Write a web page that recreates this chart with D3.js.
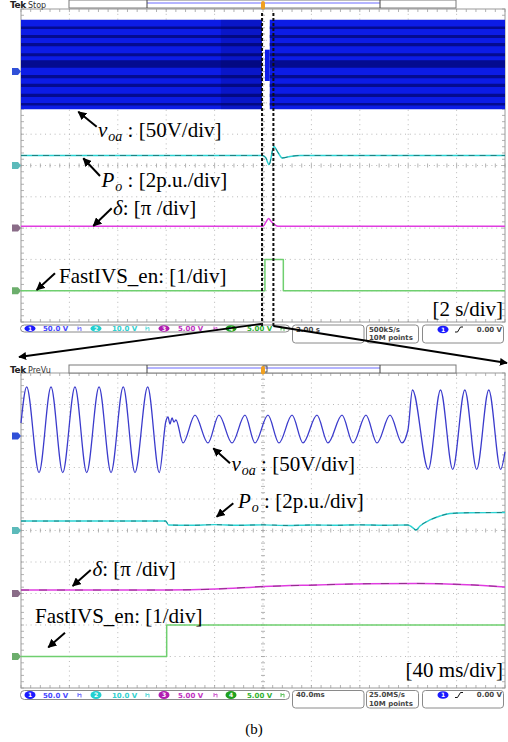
<!DOCTYPE html>
<html><head><meta charset="utf-8">
<script src="https://cdn.jsdelivr.net/npm/d3@7"></script>
<style>body{margin:0;background:#fff}svg{display:block}</style>
</head><body><svg id="c" width="508" height="742"></svg>
<script>
// ---------------- DATA ----------------
// Channel settings (scope status bar)
const chanLabels = ["1","2","3","4"];
const chanScales = ["50.0 V","10.0 V","5.00 V","5.00 V"];
const topTimebase = "2.00 s", topRate = "500kS/s", topPoints = "10M points";
const botTimebase = "40.0ms", botRate = "25.0MS/s", botPoints = "10M points";
const trigLevel = "0.00 V";

// Top screen (2 s/div, time in s)
const topVoaSegments = [   // envelope of v_oa (V)
  {t0:-10, t1:-0.04, hi:83, lo:-60},
  {t0:0.08, t1:0.28, hi:35, lo:-15},
  {t0:0.28, t1:10, hi:83, lo:-60}
];
const topVoaStripes = [ {v:70,w:4},{v:56,w:5},{v:43,w:5},{v:27,w:5},{v:12,w:12},{v:-8,w:5},{v:-22,w:5},{v:-38,w:5},{v:-52,w:4} ];
const topVoaDarkSpan = [-1.74, -0.04];
const topPoT = [-10, -0.04, 0.11, 0.25, 0.45, 0.62, 0.79, 1.12, 1.53, 10];
const topPoV = [0.64, 0.64, 0.51, 0.06, 1.21, 0.83, 0.48, 0.58, 0.64, 0.64];   // p.u.
const topDeltaT = [-10, 0, 0.12, 0.23, 0.33, 0.5, 0.62, 10];
const topDeltaV = [0.06, 0.06, 0.19, 0.31, 0.22, 0.10, 0.06, 0.06];           // x pi rad
const topEnT = [-10, 0.08, 0.84, 10];
const topEnV = [0, 1, 0, 0];
const zoomWindow = [-0.04, 0.43];  // s

// Bottom screen (40 ms/div, time in ms)
const botVoaT = [-200,-195.3,-185.1,-175.2,-165.5,-155.4,-145.7,-135.5,-125.6,-115.5,-105.8,-95.3,-85.7,
  -80.2,-78.5,-76.9,-75.2,-73.6,-71.9,
  -66.1,-56.2,-45.5,-36.4,-25.6,-14.9,-6.6,4.1,13.2,24.0,33.1,44.6,53.7,65.3,74.4,85.1,94.2,105.0,114.9,
  119.8,123.5,136.6,146.7,156.8,166.8,176.6,186.6,196.4,200];
const botVoaV = [20.6,78,-58,78,-58,78,-58,78,-58,78,-58,78,-58,
  23.8,30.2,19,28.6,22.2,25.4,
  -11,33,-11,33,-11,33,-11,33,-11,33,-11,33,-11,33,-11,33,-11,33,-11,
  9.5,73,-53,73,-53,73,-53,73,-53,-25];
const botPoT = [-200,-80.5,-78,-60,-40,-20,0,20,40,60,80,100,119.8,123.1,126.4,129.8,138,146.3,154.5,171,200];
const botPoV = [0.60,0.60,0.35,0.33,0.37,0.33,0.36,0.32,0.35,0.33,0.36,0.33,0.35,0.22,0.03,0.29,0.67,0.92,1.08,1.13,1.14];
const botDeltaT = [-200,-80,-39,0,44.6,86,127.4,168.6,200];
const botDeltaV = [0.11,0.11,0.14,0.22,0.27,0.31,0.32,0.28,0.21];
const botEnT = [-200,-79.6,200];
const botEnV = [0,1,1];

// channel display: ground position (div from centre) and units per div
const chGround = {voa:3, po:0, delta:-2, en:-4};
const chPerDiv = {voa:50, po:2, delta:1, en:1};
const chColor = {voa:"#3b3bcc", po:"#2ad3d3", delta:"#e03ce0", en:"#6fcf6f"};
const chMarker = {voa:"#3050d8", po:"#5cbaba", delta:"#8a6c88", en:"#6cae6c"};
const badgeColor = ["#1a1aff","#22d0d0","#b01cb0","#1fa01f"];
const textColor  = ["#4646ff","#30d0d0","#c030c0","#30b030"];

// ---------------- DRAW ----------------
const svg = d3.select("#c");
const SERIF = "'Liberation Serif','Times New Roman',serif";
const SANS = "'DejaVu Sans',sans-serif";
svg.append("defs").append("marker").attr("id","ah").attr("viewBox","0 0 10 10")
  .attr("refX",9).attr("refY",5).attr("markerWidth",4.4).attr("markerHeight",4.4)
  .attr("markerUnits","strokeWidth").attr("orient","auto")
  .append("path").attr("d","M0,0 L10,5 L0,10 Z").attr("fill","#000");

function screen(x0,x1,y0,y1,dom){
  const x = d3.scaleLinear().domain(dom).range([x0,x1]);
  const yd = d3.scaleLinear().domain([-5,5]).range([y1,y0]);
  const g = svg.append("g");
  const xs = d3.range(0,11).map(i=>x0+i*(x1-x0)/10);
  const ys = d3.range(0,11).map(i=>y0+i*(y1-y0)/10);
  g.selectAll(".vx").data(xs.slice(1,10)).enter().append("line")
    .attr("x1",d=>d).attr("x2",d=>d).attr("y1",y0).attr("y2",y1)
    .attr("stroke","#b8b8b8").attr("stroke-width",1).attr("stroke-dasharray","1,3.8");
  g.selectAll(".hy").data(ys.slice(1,10)).enter().append("line")
    .attr("y1",d=>d).attr("y2",d=>d).attr("x1",x0).attr("x2",x1)
    .attr("stroke","#b8b8b8").attr("stroke-width",1).attr("stroke-dasharray","1,3.8");
  const xm = (x0+x1)/2, ym=(y0+y1)/2;
  const mx = d3.range(0,51).map(i=>x0+i*(x1-x0)/50);
  const my = d3.range(0,51).map(i=>y0+i*(y1-y0)/50);
  const tk = [];
  mx.forEach(v=>{tk.push([v,ym-2,v,ym+2]);tk.push([v,y0,v,y0+3]);tk.push([v,y1-3,v,y1]);});
  my.forEach(v=>{tk.push([xm-2,v,xm+2,v]);tk.push([x0,v,x0+3,v]);tk.push([x1-3,v,x1,v]);});
  g.selectAll(".tk").data(tk).enter().append("line")
    .attr("x1",d=>d[0]).attr("y1",d=>d[1]).attr("x2",d=>d[2]).attr("y2",d=>d[3])
    .attr("stroke","#a0a0a0").attr("stroke-width",0.8);
  g.append("rect").attr("x",x0).attr("y",y0).attr("width",x1-x0).attr("height",y1-y0)
    .attr("fill","none").attr("stroke","#9a9a9a").attr("stroke-width",1);
  const ych = ch => (v => yd(chGround[ch] + v/chPerDiv[ch]));
  ["voa","po","delta","en"].forEach(ch=>{
    const yy = yd(chGround[ch]);
    g.append("path").attr("d",`M${x0-9},${yy-3.5} L${x0-3},${yy-3.5} L${x0},${yy} L${x0-3},${yy+3.5} L${x0-9},${yy+3.5} Z`)
      .attr("fill",chMarker[ch]);
  });
  return {x, yd, ych, g, x0,x1,y0,y1};
}

function wave(S, T, V, ch, curve, w){
  const pts = T.map((t,i)=>({t, v:V[i]}));
  const y = S.ych(ch);
  const ln = d3.line().x(d=>S.x(d.t)).y(d=>y(d.v)).curve(curve);
  return S.g.append("path").datum(pts).attr("d",ln).attr("fill","none")
    .attr("stroke",chColor[ch]).attr("stroke-width",w||1.4).attr("stroke-linejoin","round");
}
function overlay(S, T, V, ch, curve, col, dash){
  const pts = T.map((t,i)=>({t, v:V[i]}));
  const y = S.ych(ch);
  const ln = d3.line().x(d=>S.x(d.t)).y(d=>y(d.v)).curve(curve);
  S.g.append("path").datum(pts).attr("d",ln).attr("fill","none")
    .attr("stroke",col).attr("stroke-width",1).attr("stroke-dasharray",dash).attr("opacity",0.8);
}

// ---------- TOP SCREEN ----------
const A = screen(21,505,9,322,[-10,10]);
{
  const y = A.ych("voa");
  const area = d3.area().x(d=>A.x(d.t)).y0(d=>y(d.lo)).y1(d=>y(d.hi));
  topVoaSegments.forEach((s,i)=>{
    A.g.append("path").datum([{t:s.t0,hi:s.hi,lo:s.lo},{t:s.t1,hi:s.hi,lo:s.lo}])
      .attr("d",area).attr("fill","#0c1ce6");
    if(s.hi>50){
      topVoaStripes.forEach(st=>{
        A.g.append("path").datum([{t:s.t0,hi:st.v+st.w/2,lo:st.v-st.w/2},{t:s.t1,hi:st.v+st.w/2,lo:st.v-st.w/2}])
          .attr("d",area).attr("fill","#02087a").attr("opacity",0.8);
      });
    }
  });
  A.g.append("path").datum([{t:topVoaDarkSpan[0],hi:83,lo:-60},{t:topVoaDarkSpan[1],hi:83,lo:-60}])
    .attr("d",area).attr("fill","#000040").attr("opacity",0.18);
}
wave(A, topPoT, topPoV, "po", d3.curveMonotoneX, 1.5);
overlay(A, topPoT, topPoV, "po", d3.curveMonotoneX, "#1a6a6c", "6,5");
wave(A, topDeltaT, topDeltaV, "delta", d3.curveMonotoneX, 1.5);
wave(A, topEnT, topEnV, "en", d3.curveStepAfter, 1.5);

// ---------- BOTTOM SCREEN ----------
const B = screen(21,505,373,688,[-200,200]);
wave(B, botVoaT, botVoaV, "voa", d3.curveMonotoneX, 1.3);
wave(B, botPoT, botPoV, "po", d3.curveMonotoneX, 1.4);
overlay(B, botPoT, botPoV, "po", d3.curveMonotoneX, "#1a6a6c", "5,6");
wave(B, botDeltaT, botDeltaV, "delta", d3.curveMonotoneX, 1.5);
overlay(B, botDeltaT, botDeltaV, "delta", d3.curveMonotoneX, "#7a2a70", "8,10");
wave(B, botEnT, botEnV, "en", d3.curveStepAfter, 1.5);

// ---------- HEADERS ----------
function header(yTop, word, bracket){
  svg.append("text").attr("x",10).attr("y",yTop+7.5).attr("font-family",SANS).attr("font-size",9)
    .attr("font-weight","bold").attr("fill","#222").attr("letter-spacing",-0.4).text("Tek");
  svg.append("text").attr("x",28).attr("y",yTop+7.5).attr("font-family",SANS).attr("font-size",8)
    .attr("fill","#333").text(word);
  svg.append("rect").attr("x",69).attr("y",yTop).attr("width",387).attr("height",8)
    .attr("fill","#fff").attr("stroke","#7a7a7a").attr("stroke-width",1);
  svg.append("line").attr("x1",147).attr("x2",380).attr("y1",yTop+3).attr("y2",yTop+3)
    .attr("stroke","#6a6aff").attr("stroke-width",1);
  [147,380].forEach(v=>svg.append("line").attr("x1",v).attr("x2",v).attr("y1",yTop).attr("y2",yTop+8)
    .attr("stroke","#444").attr("stroke-width",1));
  if(bracket) svg.append("rect").attr("x",263).attr("y",yTop+1).attr("width",4).attr("height",6)
    .attr("fill","none").attr("stroke","#333").attr("stroke-width",0.8);
  svg.append("rect").attr("x",261).attr("y",yTop+1).attr("width",4).attr("height",8.5).attr("rx",2)
    .attr("fill","#f0a020");
}
header(0,"Stop",false);
header(365,"PreVu",true);

// ---------- STATUS BARS ----------
function status(yTop, stripH, boxH, tb, rate, pts){
  const cy = yTop + stripH/2;
  svg.append("rect").attr("x",20.5).attr("y",yTop).attr("width",269).attr("height",stripH).attr("rx",4)
    .attr("fill","#fff").attr("stroke","#8a8a8a").attr("stroke-width",1);
  const bx=[30,96,164,231], tx=[43,112,178,247], ix=[80,148,216,283];
  chanLabels.forEach((c,i)=>{
    svg.append("ellipse").attr("cx",bx[i]).attr("cy",cy).attr("rx",5.5).attr("ry",Math.min(4,stripH/2-0.3)).attr("fill",badgeColor[i]);
    svg.append("text").attr("x",bx[i]).attr("y",cy+2.2).attr("text-anchor","middle").attr("font-family",SANS)
      .attr("font-size",6).attr("font-weight","bold").attr("fill","#fff").text(c);
    svg.append("text").attr("x",tx[i]).attr("y",cy+2.5).attr("font-family",SANS).attr("font-size",7)
      .attr("font-weight","bold").attr("fill",textColor[i]).text(chanScales[i]);
    svg.append("path").attr("d",`M${ix[i]-2},${cy-2} L${ix[i]-2},${cy+2} M${ix[i]-2},${cy} L${ix[i]+1},${cy-1} L${ix[i]+1},${cy+2.5}`)
      .attr("fill","none").attr("stroke",textColor[i]).attr("stroke-width",0.8);
  });
  const boxes=[[292.5,71.5],[366.5,52],[422.5,81]];
  boxes.forEach(b=>svg.append("rect").attr("x",b[0]).attr("y",yTop).attr("width",b[1]).attr("height",boxH).attr("rx",3)
    .attr("fill","#fff").attr("stroke","#8a8a8a").attr("stroke-width",1));
  const t = (x,y,s,anchor)=>svg.append("text").attr("x",x).attr("y",y).attr("font-family",SANS).attr("font-size",7)
    .attr("font-weight","bold").attr("fill","#444").attr("text-anchor",anchor||"start").text(s);
  t(296,yTop+6.8,tb); t(369,yTop+6.8,rate); t(369,yTop+15,pts);
  svg.append("ellipse").attr("cx",443).attr("cy",yTop+4.5).attr("rx",5.5).attr("ry",3.8).attr("fill",badgeColor[0]);
  svg.append("text").attr("x",443).attr("y",yTop+6.7).attr("text-anchor","middle").attr("font-family",SANS)
    .attr("font-size",6).attr("font-weight","bold").attr("fill","#fff").text("1");
  svg.append("path").attr("d",`M455,${yTop+7} L457.5,${yTop+7} L460.5,${yTop+2} L463,${yTop+2}`)
    .attr("fill","none").attr("stroke","#111").attr("stroke-width",1);
  t(502,yTop+6.8,trigLevel,"end");
}
status(325,7,18,topTimebase,topRate,topPoints);
status(690.5,9,17.5,botTimebase,botRate,botPoints);

// ---------- ZOOM WINDOW ----------
zoomWindow.forEach(t=>{
  svg.append("line").attr("x1",A.x(t)).attr("x2",A.x(t)).attr("y1",13).attr("y2",327)
    .attr("stroke","#111").attr("stroke-width",2).attr("stroke-dasharray","3,2");
});
svg.append("line").attr("x1",A.x(zoomWindow[0])-1).attr("y1",324).attr("x2",19).attr("y2",357)
  .attr("stroke","#000").attr("stroke-width",1.8).attr("marker-end","url(#ah)");
svg.append("line").attr("x1",A.x(zoomWindow[1])).attr("y1",326).attr("x2",507).attr("y2",363)
  .attr("stroke","#000").attr("stroke-width",1.8).attr("marker-end","url(#ah)");

// ---------- ANNOTATIONS ----------
function arrow(x1,y1,x2,y2){
  svg.append("line").attr("x1",x1).attr("y1",y1).attr("x2",x2).attr("y2",y2)
    .attr("stroke","#000").attr("stroke-width",2).attr("marker-end","url(#ah)");
}
function label(x,y,parts,anchor){
  const t = svg.append("text").attr("x",x).attr("y",y).attr("font-family",SERIF).attr("font-size",21)
    .attr("fill","#000").attr("text-anchor",anchor||"start");
  let shifted=false;
  parts.forEach(p=>{
    const s = t.append("tspan").text(p.s);
    if(p.i) s.attr("font-style","italic");
    if(p.sub){ s.attr("font-size",14).attr("dy",4).attr("dx",1); shifted=true; }
    else if(shifted){ s.attr("dy",-4); shifted=false; }
  });
}
const voaLab = [{s:"v",i:1},{s:"oa",i:1,sub:1},{s:" : [50V/div]"}];
const poLab = [{s:"P",i:1},{s:"o",i:1,sub:1},{s:" : [2p.u./div]"}];
const dLab = [{s:"δ",i:1},{s:": [π /div]"}];
const enLab = [{s:"FastIVS_en: [1/div]"}];
// top
arrow(96.7,126.7,78.3,111.7); label(98,136.7,voaLab);
arrow(100,176,83.3,158.3); label(101.5,186.7,poLab);
arrow(111.7,208.3,93.3,226); label(113,215,dLab);
arrow(55,273.3,36.7,290); label(59,283.3,enLab);
label(503,316,[{s:"[2 s/div]"}],"end");
// bottom
arrow(230,463.3,213.3,448.3); label(231.5,470.7,voaLab);
arrow(233.3,503.3,216.7,516.7); label(238,508.3,poLab);
arrow(90.7,570,72.7,586); label(92.5,576,dLab);
arrow(65,632.7,48.3,647.3); label(35,623.3,enLab);
label(503,677,[{s:"[40 ms/div]"}],"end");

svg.append("text").attr("x",254).attr("y",734).attr("text-anchor","middle").attr("font-family",SERIF)
  .attr("font-size",15).attr("fill","#000").text("(b)");
</script></body></html>
